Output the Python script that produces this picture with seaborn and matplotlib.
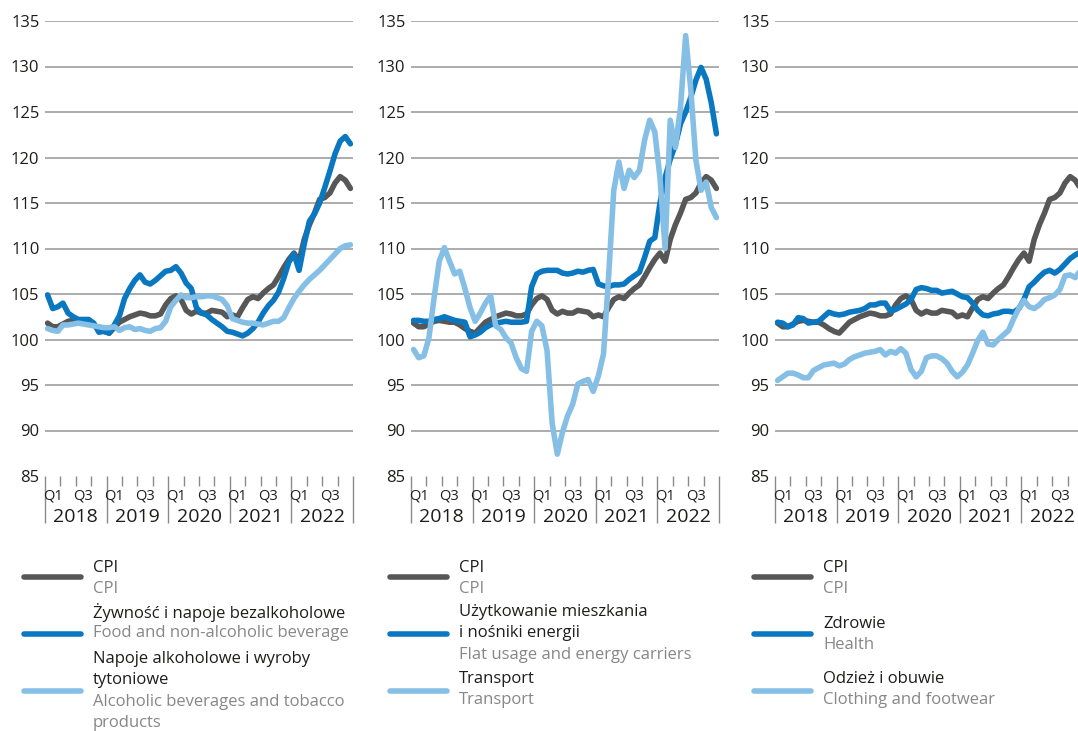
import numpy as np
import pandas as pd
import matplotlib
matplotlib.use("Agg")
import matplotlib.pyplot as plt
import seaborn as sns
from matplotlib.lines import Line2D
from matplotlib.transforms import blended_transform_factory

# --- data: monthly indices Jan 2018 - Dec 2022 ---
years = ["2018", "2019", "2020", "2021", "2022"]
quarter_labels = ["Q1", "", "Q3", ""]

cpi = [101.8, 101.4, 101.4, 101.7, 102.0, 102.1, 102.0, 101.9, 101.9, 101.6,
       101.2, 100.9, 100.7, 101.3, 101.9, 102.2, 102.5, 102.7, 102.9, 102.8,
       102.6, 102.6, 102.8, 103.8, 104.5, 104.8, 104.4, 103.2, 102.8, 103.1,
       102.9, 102.9, 103.2, 103.1, 103.0, 102.5, 102.7, 102.5, 103.5, 104.4,
       104.7, 104.5, 105.1, 105.6, 106.0, 106.9, 107.9, 108.8, 109.5, 108.6,
       111.0, 112.6, 113.9, 115.4, 115.6, 116.1, 117.2, 117.9, 117.5, 116.6]

food = [104.9, 103.4, 103.6, 104.0, 102.9, 102.5, 102.2, 102.2, 102.2, 101.8,
        100.8, 100.9, 100.7, 101.6, 102.6, 104.5, 105.6, 106.5, 107.1, 106.3,
        106.1, 106.5, 107.0, 107.5, 107.6, 108.0, 107.3, 106.2, 105.6, 103.5,
        102.9, 102.7, 102.2, 101.8, 101.4, 100.9, 100.8, 100.6, 100.4, 100.7,
        101.2, 101.9, 102.9, 103.7, 104.3, 105.2, 106.7, 108.5, 109.4, 107.6,
        110.5, 113.0, 113.8, 115.0, 116.7, 118.5, 120.4, 121.8, 122.3, 121.5]

alcohol = [101.2, 101.0, 100.9, 101.6, 101.6, 101.7, 101.8, 101.7, 101.6, 101.5,
           101.4, 101.3, 101.3, 101.4, 101.0, 101.3, 101.4, 101.1, 101.2, 101.0,
           100.9, 101.2, 101.3, 102.0, 103.6, 104.3, 104.9, 104.6, 104.6, 104.7,
           104.7, 104.8, 104.8, 104.6, 104.4, 103.7, 102.3, 102.1, 101.9, 101.8,
           101.8, 101.7, 101.6, 101.8, 102.0, 102.0, 102.4, 103.5, 104.5, 105.3,
           106.0, 106.6, 107.1, 107.6, 108.2, 108.8, 109.4, 110.0, 110.3, 110.4]

energy = [102.1, 102.1, 102.0, 102.0, 102.2, 102.3, 102.5, 102.3, 102.1, 102.0,
          101.9, 100.3, 100.5, 100.8, 101.3, 101.6, 101.8, 101.9, 102.0, 101.9,
          101.9, 101.9, 102.0, 105.8, 107.2, 107.5, 107.6, 107.6, 107.6, 107.3,
          107.2, 107.3, 107.5, 107.4, 107.6, 107.7, 106.1, 105.9, 105.8, 106.0,
          106.0, 106.1, 106.6, 107.0, 107.4, 109.0, 110.8, 111.2, 115.0, 117.8,
          119.8, 121.4, 123.7, 125.0, 126.6, 128.5, 129.9, 128.6, 126.0, 122.6]

transport = [98.9, 98.0, 98.2, 100.2, 104.6, 108.6, 110.1, 108.6, 107.2, 107.5,
             105.6, 103.5, 102.0, 102.9, 104.0, 104.8, 101.5, 101.1, 100.2, 99.6,
             98.0, 96.8, 96.5, 100.9, 102.0, 101.5, 98.8, 90.8, 87.4, 89.8,
             91.6, 92.9, 95.1, 95.4, 95.6, 94.3, 96.0, 98.4, 107.0, 116.4,
             119.5, 116.6, 118.6, 117.8, 118.6, 121.9, 124.1, 122.8, 117.8, 110.0,
             124.1, 121.1, 125.5, 133.4, 127.5, 119.7, 116.4, 117.3, 114.5, 113.4]

health = [101.9, 101.8, 101.4, 101.6, 102.4, 102.3, 101.8, 101.9, 102.0, 102.5,
          103.0, 102.8, 102.7, 102.8, 103.0, 103.1, 103.2, 103.4, 103.8, 103.8,
          104.0, 104.0, 103.1, 103.3, 103.6, 103.9, 104.4, 105.5, 105.7, 105.6,
          105.4, 105.4, 105.1, 105.2, 105.3, 105.0, 104.7, 104.6, 104.0, 103.2,
          102.7, 102.6, 102.8, 102.9, 103.1, 103.1, 103.0, 103.4, 104.4, 105.8,
          106.3, 106.9, 107.4, 107.6, 107.3, 107.7, 108.3, 108.9, 109.3, 109.6]

clothing = [95.5, 95.9, 96.3, 96.3, 96.1, 95.8, 95.8, 96.6, 96.9, 97.2,
            97.3, 97.4, 97.1, 97.3, 97.8, 98.1, 98.3, 98.5, 98.6, 98.7,
            98.9, 98.3, 98.7, 98.5, 99.0, 98.5, 96.7, 95.9, 96.5, 98.0,
            98.2, 98.2, 97.9, 97.4, 96.5, 95.9, 96.4, 97.2, 98.5, 99.9,
            100.8, 99.5, 99.4, 100.0, 100.5, 101.0, 102.3, 103.4, 104.3, 103.6,
            103.4, 103.8, 104.4, 104.6, 104.9, 105.5, 107.0, 107.1, 106.8, 107.6]

panels = [
    {"series": [cpi, food, alcohol],
     "pl": ["CPI", "Żywność i napoje bezalkoholowe", "Napoje alkoholowe i wyroby\ntytoniowe"],
     "en": ["CPI", "Food and non-alcoholic beverage", "Alcoholic beverages and tobacco\nproducts"]},
    {"series": [cpi, energy, transport],
     "pl": ["CPI", "Użytkowanie mieszkania\ni nośniki energii", "Transport"],
     "en": ["CPI", "Flat usage and energy carriers", "Transport"]},
    {"series": [cpi, health, clothing],
     "pl": ["CPI", "Zdrowie", "Odzież i obuwie"],
     "en": ["CPI", "Health", "Clothing and footwear"]},
]

colors = ["#575757", "#0a77c1", "#85bfe5"]
text_dark = "#1d1d1b"
text_grey = "#878787"
grid_col = "#a6a6a6"

sns.set_style("white")
plt.rcParams["font.family"] = ["Open Sans", "DejaVu Sans"]

W, H = 1078, 731
fig = plt.figure(figsize=(W / 100, H / 100), dpi=100)

ax_left = [45, 411, 775]
ax_w = 308
ax_top, ax_bot = 21, 476

# legend layout (pixels): swatch y and first text line y for each entry
swatch_y = [577, 634, 691]
text_y = [[568, 612, 659], [568, 612, 679], [568, 624, 679]]
line_h = 21.3

for p, (panel, left) in enumerate(zip(panels, ax_left)):
    ax = fig.add_axes([left / W, 1 - ax_bot / H, ax_w / W, (ax_bot - ax_top) / H])
    rows = []
    for k, vals in enumerate(panel["series"]):
        for i, v in enumerate(vals):
            rows.append({"x": i + 0.5, "value": v, "series": k})
    df = pd.DataFrame(rows)
    sns.lineplot(data=df, x="x", y="value", hue="series", palette=colors,
                 estimator=None, lw=4, legend=False, ax=ax,
                 solid_capstyle="round")

    ax.set_xlim(0, 60)
    ax.set_ylim(85, 135)
    ax.set_yticks(np.arange(85, 136, 5))
    ax.yaxis.grid(True, color=grid_col, lw=1.3)
    ax.get_ygridlines()[0].set_visible(False)
    ax.set_axisbelow(True)
    for s in ax.spines.values():
        s.set_visible(False)
    ax.tick_params(axis="y", length=0, pad=4, labelsize=12, labelcolor=text_dark)
    ax.set_xlabel("")
    ax.set_ylabel("")

    # year separators (major) and quarter ticks (minor)
    ax.set_xticks(np.arange(0, 61, 12))
    ax.set_xticks(np.arange(3, 60, 3), minor=True)
    ax.tick_params(axis="x", which="major", bottom=True, length=34, width=1,
                   color="#8a8a8a", labelbottom=False)
    ax.tick_params(axis="x", which="minor", bottom=True, length=7, width=1,
                   color="#8a8a8a")

    trans = blended_transform_factory(ax.transData, ax.transAxes)
    for y_i, yr in enumerate(years):
        for q, ql in enumerate(quarter_labels):
            if ql:
                ax.text(y_i * 12 + q * 3 + 1.5, -0.045, ql, transform=trans,
                        ha="center", va="center", fontsize=10.5, color=text_dark)
        ax.text(y_i * 12 + 6, -0.091, yr, transform=trans, ha="center",
                va="center", fontsize=14, color=text_dark)

    # legend
    sw_x0 = left - 21
    tx = left + 48
    for k in range(3):
        sy = 1 - swatch_y[k] / H
        fig.add_artist(Line2D([sw_x0 / W, (sw_x0 + 57) / W], [sy, sy],
                              transform=fig.transFigure, color=colors[k], lw=4,
                              solid_capstyle="round"))
        lines = [(t, text_dark) for t in panel["pl"][k].split("\n")] + \
                [(t, text_grey) for t in panel["en"][k].split("\n")]
        for n, (t, c) in enumerate(lines):
            fig.text(tx / W, 1 - (text_y[p][k] + n * line_h) / H, t,
                     ha="left", va="center", fontsize=12, color=c)

fig.savefig("out.png", dpi=100)
